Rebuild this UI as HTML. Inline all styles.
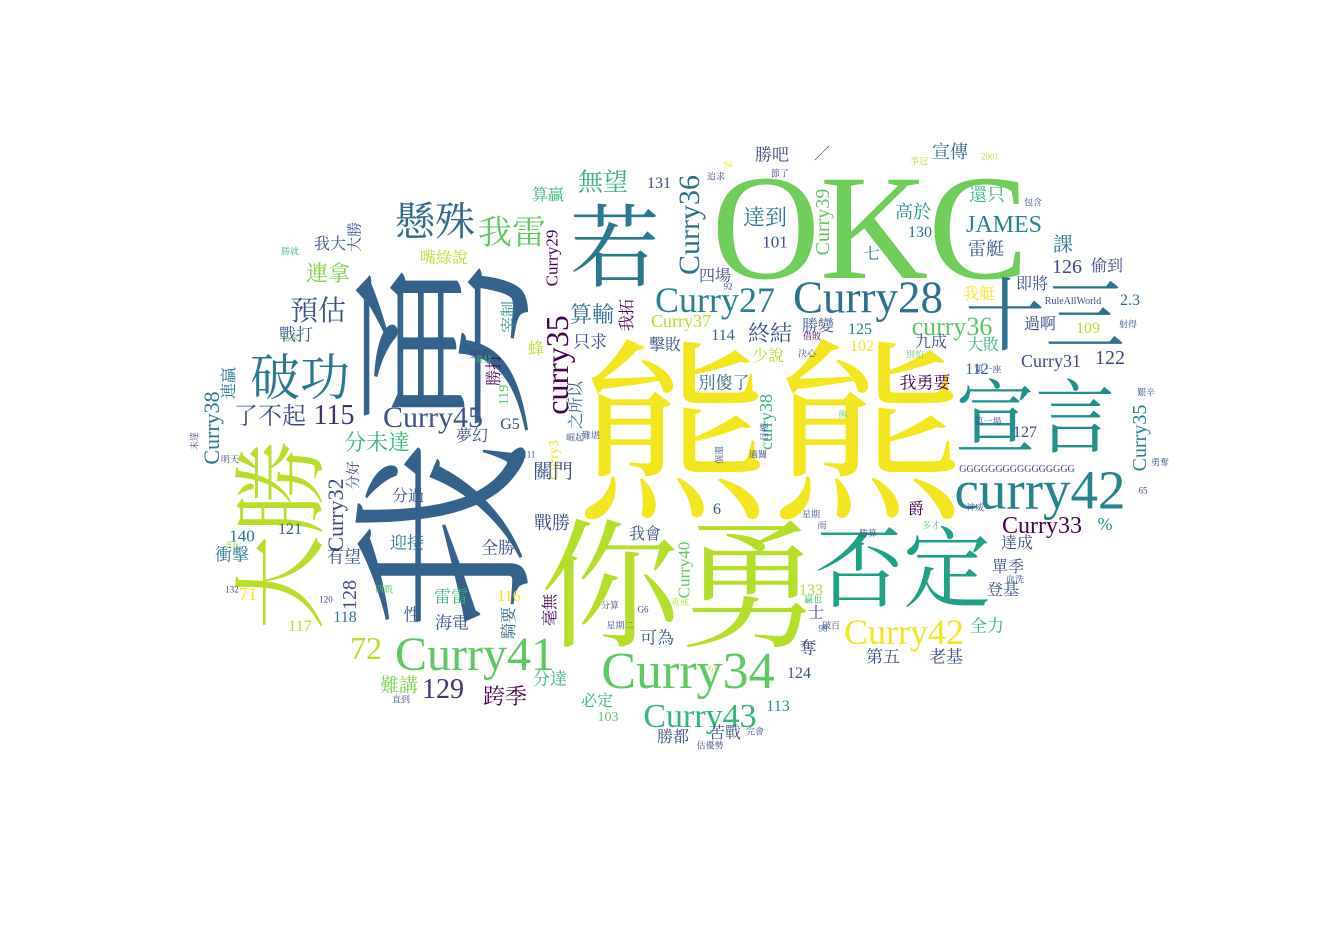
<!DOCTYPE html>
<html>
<head>
<meta charset="utf-8">
<style>
html,body{margin:0;padding:0;background:#fff;}
#cloud{position:relative;width:1334px;height:945px;overflow:hidden;background:#fff;}
.w{position:absolute;white-space:nowrap;line-height:1;font-family:"Liberation Serif","Noto Serif CJK SC",serif;transform-origin:center center;}
</style>
</head>
<body>
<div id="cloud"></div>
<script>
// word cloud data
const words = ["熊熊","你勇","我勇","OKC","大勝","若","宣言","否定","十三","curry42","Curry28","Curry27","Curry34","Curry41","Curry43","Curry42","Curry45","破功","懸殊","我雷","預估","115","了不起","連拿","分未達","72","129","跨季","難講","無望","curry35","Curry36","Curry39","Curry38","Curry35","Curry32","curry38","Curry3","Curry29","Curry40","curry36","Curry37","Curry31","Curry33","JAMES","雷艇","還只","宣傳","高於","130","達到","101","勝吧","／","131","算贏","我大","大勝","嘴綠說","四場","七","課","126","偷到","即將","我艇","過啊","2.3","109","122","算輸","我拓","終結","勝變","125","九成","大敗","114","擊敗","102","只求","少說","112","別傻了","我勇要","蜂","宰制","勝打","戰打","連贏","119","之所以","127","夢幻","G5","關門","6","爵","%","分好","分過","戰勝","121","140","衝擊","迎接","全勝","我會","達成","單季","登基","有望","128","71","133","性","雷雷","116","騎要","毫無","士","全力","117","118","海電","可為","奪","第五","老基","分達","124","必定","103","113","勝都","苦戰","RuleAllWorld","GGGGGGGGGGGGGGGG","第一場","未達","明天","直到","估優勢","完會","星期","爭冠","包含","2001","94","追求","節了","熊","雨","射得","艱辛","勇奪","65","92","別怕","第一座","破百","贏也","分算","星期二","61","G6","98","120","在家","bye","勝就","132","9.6","四戰","崛起","過關","借敗","個還","難堪","決心","雙慢","重登","111","目標","神威","多才","血洗","勝算","爽成"];
const sizes  = [195,140,190,150,95,90,80,88,80,55,45,36,52,48,34,36,30,50,40,34,28,28,24,22,22,32,28,22,19,25,32,30,20,22,20,22,18,14,17,17,26,18,18,24,24,18,18,18,18,16,22,17,17,16,16,16,16,15,16,16,16,20,20,16,16,16,16,16,16,20,22,16,22,16,16,16,16,16,16,16,17,16,16,17,17,16,16,16,17,16,14,16,16,16,16,20,16,16,18,14,16,18,16,17,17,17,17,16,16,16,16,17,20,18,16,17,17,16,16,16,16,17,16,16,17,17,17,17,17,17,16,16,14,16,16,16,10,10,9,9,9,9,9,9,9,9,9,9,9,9,9,9,9,9,9,9,9,9,9,9,9,9,9,9,9,9,9,9,9,9,9,9,9,9,9,9,9,9,9,9,9,9,9,9,9,9,9,9];
const colors = ["#f3e51e","#b5de2b","#33638d","#6ece58","#b8de29","#2a788e","#21918c","#1fa187","#2c728e","#25838e","#2c728e","#26828e","#5ec962","#5ec962","#35b779","#f3e51e","#3b528b","#2a788e","#31688e","#5ec962","#3b528b","#472d7b","#3e4989","#7ad151","#35b779","#b5de2b","#472d7b","#440154","#7ad151","#35b779","#440154","#2c728e","#5ec962","#2a788e","#26828e","#3e4989","#35b779","#f3e51e","#440154","#5ec962","#5ec962","#b5de2b","#3e4989","#440154","#26828e","#3b528b","#35b779","#31688e","#21918c","#2a788e","#2a788e","#3e4989","#3e4989","#3e4989","#3e4989","#35b779","#3b528b","#3b528b","#b5de2b","#3e4989","#2a788e","#2a788e","#3e4989","#3e4989","#3b528b","#f3e51e","#3e4989","#31688e","#b5de2b","#3e4989","#31688e","#440154","#3b528b","#3b528b","#2a788e","#3e4989","#35b779","#31688e","#3b528b","#f3e51e","#3e4989","#b5de2b","#31688e","#31688e","#440154","#b5de2b","#21918c","#440154","#3b528b","#2a788e","#5ec962","#31688e","#3e4989","#3e4989","#3e4989","#3b528b","#3b528b","#440154","#21918c","#3e4989","#3b528b","#3e4989","#3b528b","#2a788e","#2a788e","#2a788e","#3e4989","#3b528b","#3e4989","#3b528b","#3b528b","#3e4989","#3e4989","#f3e51e","#b5de2b","#3b528b","#35b779","#f3e51e","#31688e","#440154","#3e4989","#35b779","#b5de2b","#2a788e","#3b528b","#3b528b","#3e4989","#3e4989","#3e4989","#35b779","#3b528b","#35b779","#5ec962","#21918c","#3e4989","#3b528b","#3b528b","#3e4989","#3b528b","#3e4989","#3e4989","#3e4989","#3e4989","#3b528b","#3b528b","#b5de2b","#3e4989","#b5de2b","#f3e51e","#3e4989","#3e4989","#5ec962","#3e4989","#3e4989","#3b528b","#3e4989","#3b528b","#3e4989","#5ec962","#3e4989","#3e4989","#35b779","#3e4989","#3b528b","#b5de2b","#3e4989","#31688e","#3e4989","#5ec962","#b5de2b","#35b779","#3e4989","#b5de2b","#5ec962","#3b528b","#3e4989","#440154","#3e4989","#3b528b","#3e4989","#3e4989","#35b779","#3b528b","#3e4989","#3e4989","#5ec962","#3b528b","#3e4989","#b5de2b","#3e4989","#3b528b","#3e4989","#3e4989","#3b528b","#3e4989"];
const xs = [770,680,450,870,283,615,1035,903,1045,1040,868,715,688,475,700,904,433,300,435,512,318,334,270,328,377,366,443,505,399,603,557,690,823,212,1140,336,766,555,552,684,952,681,1051,1042,1004,986,987,950,913,920,765,775,772,822,659,548,330,356,444,715,872,1063,1067,1107,1032,979,1040,1130,1088,1110,592,628,770,818,860,931,983,723,665,862,590,768,977,724,925,536,510,495,296,230,505,577,1025,472,510,553,717,916,1105,355,408,552,290,242,232,407,498,645,1017,1008,1003,344,350,248,811,412,451,509,510,551,816,987,300,345,452,657,808,883,946,550,799,597,608,778,673,725,1073,1017,988,195,230,401,710,755,811,919,1033,990,728,716,780,843,822,1128,1146,1160,1143,728,915,988,831,813,610,620,713,643,823,326,290,320,290,232,232,384,575,758,812,720,591,807,478,483,529,765,975,931,1015,868,680];
const ys = [440,590,440,228,535,250,420,572,318,490,298,300,672,655,717,632,418,378,222,234,312,416,417,274,443,648,690,697,686,183,365,225,222,428,438,515,422,460,258,570,327,321,361,526,225,249,195,152,212,233,218,242,155,155,184,196,245,237,259,277,255,245,267,267,285,295,325,301,329,358,315,315,334,327,330,343,346,336,346,347,342,357,370,383,383,350,317,370,335,383,395,405,433,437,425,472,510,510,524,475,497,523,530,536,555,543,548,535,544,568,591,557,595,594,591,615,597,597,623,610,614,626,627,618,623,638,648,657,657,679,674,702,718,707,738,734,302,470,422,441,460,700,746,732,515,162,203,157,165,177,174,415,526,325,393,463,491,287,355,370,626,600,606,626,669,610,629,600,338,267,252,590,545,590,438,455,337,455,436,354,355,360,455,432,508,526,580,534,603,532];
const rots = [0,0,-90,0,-90,0,0,0,0,0,0,0,0,0,0,0,0,0,0,0,0,0,0,0,0,0,0,0,0,0,-90,-90,-90,-90,-90,-90,-90,-90,-90,-90,0,0,0,0,0,0,0,0,0,0,0,0,0,0,0,0,0,-90,0,0,0,0,0,0,0,0,0,0,0,0,0,-90,0,0,0,0,0,0,0,0,0,0,0,0,0,0,-90,-90,0,-90,-90,-90,0,0,0,0,0,0,0,-90,0,0,0,0,0,0,0,0,0,0,0,0,-90,0,0,0,0,0,-90,-90,0,0,0,0,0,0,0,0,0,0,0,0,0,0,0,0,0,0,0,-90,0,0,0,0,0,0,0,0,0,0,0,0,0,0,0,0,0,0,0,0,0,0,0,0,0,0,0,0,0,0,0,0,0,0,0,0,0,-90,0,0,0,0,0,-90,0,0,0,0,0,0,0,0,0,0,0,0,0,0,0,0];

const cloud = document.getElementById('cloud');
for (let i = 0; i < words.length; i++) {
  const el = document.createElement('span');
  el.className = 'w';
  el.textContent = words[i];
  el.style.fontSize = (sizes[i] || 9) + 'px';
  el.style.color = colors[i] || '#3e4989';
  el.style.left = (xs[i] || 0) + 'px';
  el.style.top = (ys[i] || 0) + 'px';
  el.style.transform = 'translate(-50%,-50%) rotate(' + (rots[i] || 0) + 'deg)';
  
  
  cloud.appendChild(el);
}
</script>
</body>
</html>
